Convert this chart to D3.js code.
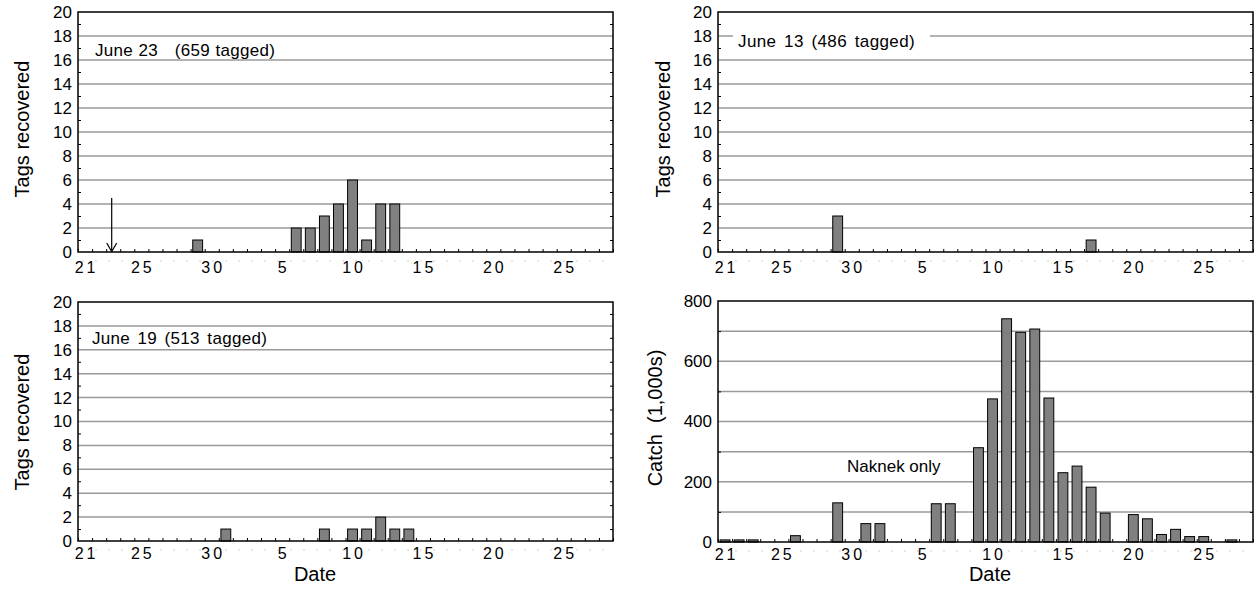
<!DOCTYPE html>
<html>
<head>
<meta charset="utf-8">
<script src="https://cdn.jsdelivr.net/npm/d3@7/dist/d3.min.js"></script>
<style>
  html, body { margin: 0; padding: 0; background: #fff; }
  svg { display: block; font-family: "Liberation Sans", Arial, Helvetica, sans-serif; }
</style>
</head>
<body>
<svg id="chart" width="1257" height="601"></svg>
<script>
// Days of the season, June 21 through July 28
const categories = [
  "Jun 21","Jun 22","Jun 23","Jun 24","Jun 25","Jun 26","Jun 27","Jun 28","Jun 29","Jun 30",
  "Jul 1","Jul 2","Jul 3","Jul 4","Jul 5","Jul 6","Jul 7","Jul 8","Jul 9","Jul 10",
  "Jul 11","Jul 12","Jul 13","Jul 14","Jul 15","Jul 16","Jul 17","Jul 18","Jul 19","Jul 20",
  "Jul 21","Jul 22","Jul 23","Jul 24","Jul 25","Jul 26","Jul 27","Jul 28"
];
const tickCategories = ["Jun 21","Jun 25","Jun 30","Jul 5","Jul 10","Jul 15","Jul 20","Jul 25"];
const tickLabels = ["21","25","30","5","10","15","20","25"];

// Tags recovered per day, by release group
const tagsJune23 = [0,0,0,0,0,0,0,0,1,0, 0,0,0,0,0,2,2,3,4,6, 1,4,4,0,0,0,0,0,0,0, 0,0,0,0,0,0,0,0];
const tagsJune13 = [0,0,0,0,0,0,0,0,3,0, 0,0,0,0,0,0,0,0,0,0, 0,0,0,0,0,0,1,0,0,0, 0,0,0,0,0,0,0,0];
const tagsJune19 = [0,0,0,0,0,0,0,0,0,0, 1,0,0,0,0,0,0,1,0,1, 1,2,1,1,0,0,0,0,0,0, 0,0,0,0,0,0,0,0];

// Daily catch, Naknek only (thousands of fish)
const catchNaknek = [7,7,7,0,0,21,0,0,130,0, 61,61,0,0,0,127,127,0,313,475,
                     741,696,707,478,230,252,182,96,0,91, 77,25,42,18,18,0,7,0];

const tagTicks = [0,2,4,6,8,10,12,14,16,18,20];
const catchTicks = [0,200,400,600,800];

const releaseDate = "Jun 23";
const releaseArrowTop = 4.5;

const svg = d3.select("#chart");

function drawPanel(p) {
  const g = svg.append("g");
  const x = d3.scaleBand().domain(categories).range([p.x0, p.x1])
              .paddingInner(0.3).paddingOuter(0.15);
  const y = d3.scaleLinear().domain([0, p.yMax]).range([p.y1, p.y0]);

  // horizontal gridlines
  g.append("g").selectAll("line").data(p.grid).join("line")
    .attr("x1", p.x0).attr("x2", p.x1)
    .attr("y1", d => y(d)).attr("y2", d => y(d))
    .attr("stroke", "#9a9a9a").attr("stroke-width", 1.5);

  // faint dashes below the date axis
  g.append("line")
    .attr("x1", p.x0 + 4).attr("x2", p.x1)
    .attr("y1", p.y1 + 9).attr("y2", p.y1 + 9)
    .attr("stroke", "#d0d0d0").attr("stroke-width", 1)
    .attr("stroke-dasharray", "2,11");

  // bars
  const rows = categories.map((c, i) => ({ c, v: p.values[i] })).filter(d => d.v > 0);
  g.append("g").selectAll("rect").data(rows).join("rect")
    .attr("x", d => x(d.c))
    .attr("width", x.bandwidth())
    .attr("y", d => y(d.v))
    .attr("height", d => y(0) - y(d.v))
    .attr("fill", "#808080")
    .attr("stroke", "#000").attr("stroke-width", 1);

  // label box knocking out a gridline
  if (p.note && p.note.box) {
    g.append("rect")
      .attr("x", p.note.box[0]).attr("y", p.note.box[1])
      .attr("width", p.note.box[2]).attr("height", p.note.box[3])
      .attr("fill", "#fff");
  }

  // frame
  g.append("rect")
    .attr("x", p.x0).attr("y", p.y0)
    .attr("width", p.x1 - p.x0).attr("height", p.y1 - p.y0)
    .attr("fill", "none").attr("stroke", "#000").attr("stroke-width", 1.5);

  // left axis labels
  const left = g.append("g").attr("transform", `translate(${p.x0},0)`)
    .call(d3.axisLeft(y).tickValues(p.ticks).tickSize(0).tickPadding(6));
  left.attr("font-size", null).attr("font-family", null);
  left.select(".domain").remove();
  left.selectAll("text").style("font-size", "17px").attr("fill", "#000");

  // minor ticks, inside on both sides
  const minorL = g.append("g").attr("transform", `translate(${p.x0},0)`)
    .call(d3.axisLeft(y).tickValues(p.minor).tickSize(-3).tickFormat(""));
  minorL.select(".domain").remove();
  const minorR = g.append("g").attr("transform", `translate(${p.x1},0)`)
    .call(d3.axisRight(y).tickValues(p.minor).tickSize(-3).tickFormat(""));
  minorR.select(".domain").remove();
  g.selectAll(".tick line").attr("stroke", "#000");

  // day boundary ticks on the date axis
  const xi = d3.scaleLinear().domain([0, categories.length]).range([p.x0, p.x1]);
  const bottomTicks = g.append("g").attr("transform", `translate(0,${p.y1})`)
    .call(d3.axisBottom(xi).tickValues(d3.range(categories.length + 1)).tickSize(-3).tickFormat(""));
  bottomTicks.select(".domain").remove();
  bottomTicks.selectAll("line").attr("stroke", "#000");

  // date labels
  const bottom = g.append("g").attr("transform", `translate(0,${p.y1})`)
    .call(d3.axisBottom(x).tickValues(tickCategories)
      .tickFormat((d, i) => tickLabels[i]).tickSize(0).tickPadding(0));
  bottom.attr("font-size", null).attr("font-family", null);
  bottom.select(".domain").remove();
  bottom.selectAll("text")
    .style("font-size", "16px").attr("fill", "#000")
    .style("letter-spacing", "3px")
    .attr("dx", 1.5)
    .attr("dy", null)
    .attr("y", p.tickLabelY);

  // y title
  g.append("text")
    .attr("transform", `translate(${p.yTitle[0]},${p.yTitle[1]}) rotate(-90)`)
    .attr("text-anchor", "middle")
    .style("font-size", "20px")
    .style("white-space", "pre")
    .text(p.yTitleText);

  if (p.note) {
    g.append("text")
      .attr("x", p.note.x).attr("y", p.note.y)
      .style("font-size", "17px")
      .style("word-spacing", (p.note.ws || 0) + "px")
      .style("letter-spacing", (p.note.ls || 0) + "px")
      .style("white-space", "pre")
      .text(p.note.text);
  }

  if (p.xTitle) {
    g.append("text")
      .attr("x", p.xTitle[0]).attr("y", p.xTitle[1])
      .attr("text-anchor", "middle")
      .style("font-size", "20px")
      .text("Date");
  }

  if (p.arrow) {
    const ax = x(p.arrow.date) + x.bandwidth() / 2 - 1.5;
    const ay0 = y(p.arrow.top), ay1 = y(0);
    g.append("line").attr("x1", ax).attr("x2", ax).attr("y1", ay0).attr("y2", ay1)
      .attr("stroke", "#000").attr("stroke-width", 1.2);
    g.append("path")
      .attr("d", `M${ax - 5},${ay1 - 9} L${ax},${ay1 - 0.5} L${ax + 5},${ay1 - 9}`)
      .attr("fill", "none").attr("stroke", "#000").attr("stroke-width", 1.2);
  }
}

const tagGrid = [2,4,6,8,10,12,14,16,18];
const tagMinor = [1,3,5,7,9,11,13,15,17,19];

drawPanel({
  x0: 78, x1: 613, y0: 12, y1: 252, yMax: 20,
  values: tagsJune23, ticks: tagTicks, grid: tagGrid, minor: tagMinor,
  tickLabelY: 21,
  yTitle: [29, 129], yTitleText: "Tags recovered",
  note: { x: 95, y: 56, text: "June 23   (659 tagged)", ls: 0.3, ws: 0.5 },
  arrow: { date: releaseDate, top: releaseArrowTop }
});

drawPanel({
  x0: 718, x1: 1253, y0: 12, y1: 252, yMax: 20,
  values: tagsJune13, ticks: tagTicks, grid: tagGrid, minor: tagMinor,
  tickLabelY: 21,
  yTitle: [670, 129], yTitleText: "Tags recovered",
  note: { x: 738, y: 47, text: "June 13 (486 tagged)", ls: 0.4, ws: 2.5, box: [733, 28, 197, 22] }
});

drawPanel({
  x0: 78, x1: 613, y0: 302, y1: 541, yMax: 20,
  values: tagsJune19, ticks: tagTicks, grid: tagGrid, minor: tagMinor,
  tickLabelY: 18,
  yTitle: [29, 422], yTitleText: "Tags recovered",
  note: { x: 92, y: 344, text: "June 19 (513 tagged)", ls: 0.3, ws: 2.5 },
  xTitle: [315, 581]
});

drawPanel({
  x0: 718, x1: 1253, y0: 301, y1: 542, yMax: 800,
  values: catchNaknek, ticks: catchTicks, grid: [100,200,300,400,500,600,700], minor: [100,300,500,700],
  tickLabelY: 18,
  yTitle: [662, 418], yTitleText: "Catch  (1,000s)",
  note: { x: 847, y: 472, text: "Naknek only" },
  xTitle: [990, 581]
});
</script>
</body>
</html>
